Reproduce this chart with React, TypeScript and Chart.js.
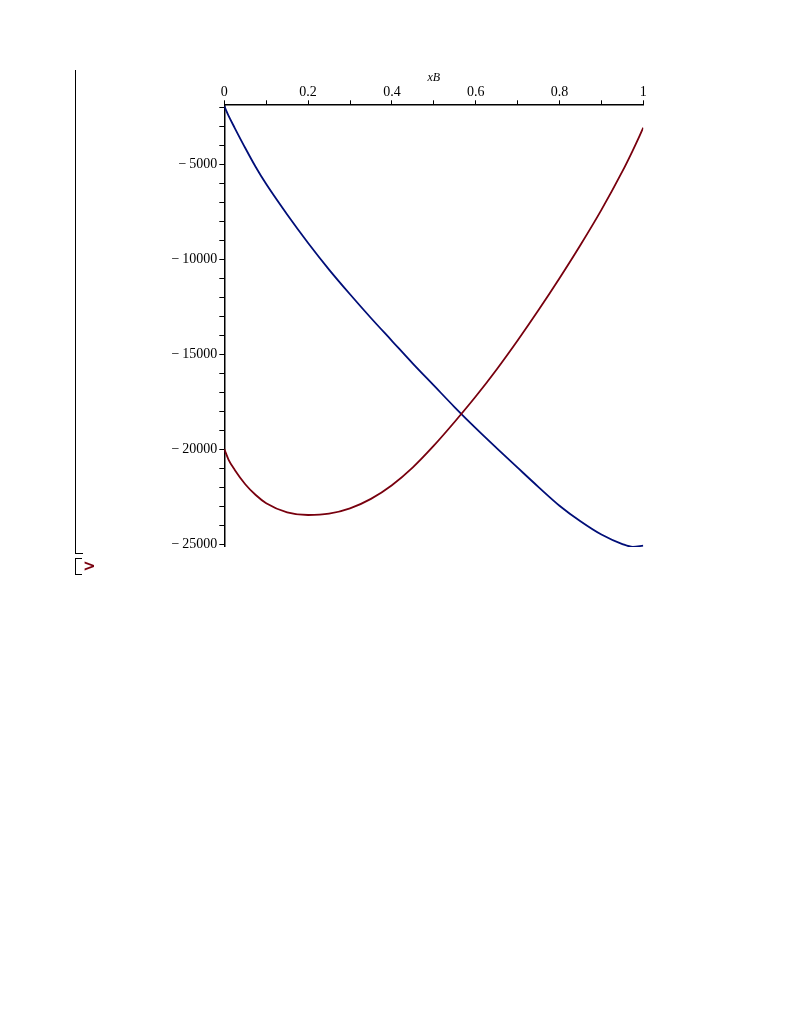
import React, { useRef, useEffect } from 'react';
import { Chart, registerables } from 'chart.js';

Chart.register(...registerables);

// composición xB (eje horizontal, arriba)
const xB = [0, 0.01, 0.025, 0.05, 0.075, 0.1, 0.15, 0.2, 0.25, 0.3, 0.35, 0.4, 0.45, 0.5,
  0.55, 0.6, 0.65, 0.7, 0.75, 0.8, 0.85, 0.9, 0.95, 0.975, 1];

// curva roja
const redValues = [-20000, -20550, -21100, -21850, -22420, -22850, -23330, -23470, -23400, -23120,
  -22620, -21900, -20960, -19820, -18560, -17235, -15810, -14285, -12685, -11010,
  -9260, -7410, -5385, -4270, -3080];

// curva azul
const blueValues = [-1950, -2450, -3100, -4150, -5150, -6050, -7650, -9150, -10550, -11850,
  -13100, -14300, -15500, -16650, -17800, -18900, -19950, -20980, -22000, -22980,
  -23800, -24500, -25000, -25150, -25080];

// marcas de los ejes
const xTicks = [0, 0.1, 0.2, 0.3, 0.4, 0.5, 0.6, 0.7, 0.8, 0.9, 1];
const xLabels = ['0', '0.2', '0.4', '0.6', '0.8', '1'];
const yTicks = [-25000, -24000, -23000, -22000, -21000, -20000, -19000, -18000, -17000, -16000,
  -15000, -14000, -13000, -12000, -11000, -10000, -9000, -8000, -7000, -6000, -5000, -4000,
  -3000, -2000];
const yLabels = [-5000, -10000, -15000, -20000, -25000];

const W = 700;
const H = 600;

const App: React.FC = () => {
  const chartRef = useRef<HTMLCanvasElement | null>(null);

  useEffect(() => {
    if (!chartRef.current) return;
    const ctx = chartRef.current.getContext('2d');
    if (!ctx) return;

    const tickFont = { family: "'Liberation Serif', 'Times New Roman', serif", size: 14 };

    const chart = new Chart(ctx, {
      type: 'scatter',
      data: {
        datasets: [
          {
            label: 'rojo',
            data: xB.map((x, i) => ({ x, y: redValues[i] })),
            showLine: true,
            borderColor: '#78000E',
            borderWidth: 1.8,
            pointRadius: 0,
            cubicInterpolationMode: 'monotone',
          },
          {
            label: 'azul',
            data: xB.map((x, i) => ({ x, y: blueValues[i] })),
            showLine: true,
            borderColor: '#000E78',
            borderWidth: 1.8,
            pointRadius: 0,
            cubicInterpolationMode: 'monotone',
          },
        ],
      },
      options: {
        responsive: false,
        animation: false,
        layout: {
          padding: { left: 144.3, top: 70.3, right: W - 643.3, bottom: H - 546.9 },
        },
        plugins: {
          legend: { display: false },
          tooltip: { enabled: false },
        },
        scales: {
          x: {
            type: 'linear',
            position: 'top',
            min: 0,
            max: 1,
            afterBuildTicks: (scale: any) => { scale.ticks = xTicks.map((value) => ({ value })); },
            afterFit: (scale: any) => { scale.height = 34; },
            title: {
              display: true,
              text: 'xB',
              color: '#000',
              font: { family: "'Liberation Serif', serif", size: 12, style: 'italic' },
              padding: { top: 0, bottom: 2 },
            },
            ticks: {
              autoSkip: false,
              maxRotation: 0,
              padding: 0,
              color: '#000',
              font: tickFont,
              callback: (v: any) => {
                const s = String(Math.round(Number(v) * 10) / 10);
                return xLabels.includes(s) ? s : '';
              },
            },
            grid: {
              drawOnChartArea: false,
              drawTicks: true,
              tickLength: 4,
              color: '#000',
            },
            border: { display: true, color: '#000', width: 1.5 },
          },
          y: {
            type: 'linear',
            min: -25150,
            max: -1850,
            afterBuildTicks: (scale: any) => { scale.ticks = yTicks.map((value) => ({ value })); },
            afterFit: (scale: any) => { scale.width = 80; },
            ticks: {
              autoSkip: false,
              padding: 2,
              color: '#000',
              font: tickFont,
              callback: (v: any) => {
                const n = Math.round(Number(v));
                return yLabels.includes(n) ? '\u2212\u2009' + Math.abs(n) : '';
              },
            },
            grid: {
              drawOnChartArea: false,
              drawTicks: true,
              tickLength: 5,
              color: '#000',
            },
            border: { display: true, color: '#000', width: 1.5 },
          },
        },
      } as any,
    });

    return () => {
      chart.destroy();
    };
  }, []);

  return (
    <div style={{ position: 'absolute', left: 0, top: 0, width: 791, height: 1024, overflow: 'hidden', background: '#fff' }}>
      <canvas ref={chartRef} width={W} height={H} style={{ position: 'absolute', left: 0, top: 0, width: W, height: H }} />
      {/* corchetes de la hoja de Maple */}
      <div style={{ position: 'absolute', left: 75, top: 70, width: 1, height: 484, background: '#000' }} />
      <div style={{ position: 'absolute', left: 75, top: 553, width: 8, height: 1, background: '#000' }} />
      <div style={{ position: 'absolute', left: 75, top: 558, width: 1, height: 17, background: '#000' }} />
      <div style={{ position: 'absolute', left: 75, top: 558, width: 7, height: 1, background: '#000' }} />
      <div style={{ position: 'absolute', left: 75, top: 574, width: 7, height: 1, background: '#000' }} />
      <div style={{ position: 'absolute', left: 83, top: 557, fontFamily: "'DejaVu Sans', sans-serif", fontSize: 15, fontWeight: 'bold', color: '#78000E', lineHeight: '18px' }}>&gt;</div>
    </div>
  );
};

export default App;
